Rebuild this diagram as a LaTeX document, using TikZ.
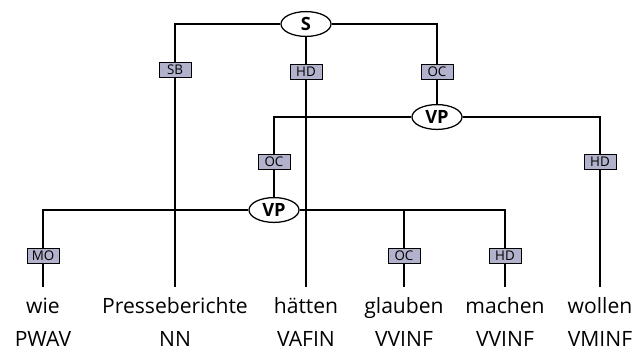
\documentclass[tikz,border=0pt]{standalone}
\usepackage{fontspec}
\setmainfont{Open Sans}
\usetikzlibrary{positioning, shapes.geometric}

\definecolor{edgefill}{RGB}{178,178,204}

\begin{document}
\begin{tikzpicture}[
    x=0.025cm, y=-0.025cm,
    cat/.style={ellipse, draw, line width=0.9pt, fill=white, inner sep=0pt, minimum width=1.25cm, minimum height=0.62cm, font=\fontsize{13}{15}\selectfont\bfseries},
    edgelab/.style={rectangle, draw, line width=0.6pt, fill=edgefill, inner sep=0pt, minimum width=0.8cm, minimum height=0.38cm, font=\fontsize{9.5}{10}\selectfont},
    word/.style={anchor=base, inner xsep=2pt, inner ysep=6.5pt, text height=12pt, font=\fontsize{15}{18}\selectfont},
    tag/.style={anchor=base, inner sep=2pt, font=\fontsize{15}{18}\selectfont},
    link/.style={line width=1.4pt}
]
\useasboundingbox (0,0) rectangle (638,351);

% terminals
\node[word] (wie) at (43,313) {wie};
\node[word] (presse) at (175,313) {Presseberichte};
\node[word] (haetten) at (306,313) {hätten};
\node[word] (glauben) at (404,313) {glauben};
\node[word] (machen) at (505,313) {machen};
\node[word] (wollen) at (600,313) {wollen};

% part-of-speech tags
\node[tag] (wie-t) at (43,346) {PWAV};
\node[tag] (presse-t) at (175,346) {NN};
\node[tag] (haetten-t) at (306,346) {VAFIN};
\node[tag] (glauben-t) at (404,346) {VVINF};
\node[tag] (machen-t) at (505,346) {VVINF};
\node[tag] (wollen-t) at (600,346) {VMINF};

% phrase nodes
\node[cat] (s) at (306,24) {S};
\node[cat] (vp1) at (437,117) {VP};
\node[cat] (vp2) at (274,210) {VP};

% edge labels
\node[edgelab] (sb) at (175,70) {SB};
\node[edgelab] (hd1) at (306,72) {HD};
\node[edgelab] (oc1) at (437,72) {OC};
\node[edgelab] (oc2) at (274,162) {OC};
\node[edgelab] (hd2) at (600,162) {HD};
\node[edgelab] (mo) at (43,256) {MO};
\node[edgelab] (oc3) at (404,256) {OC};
\node[edgelab] (hd3) at (505,256) {HD};

% S
\draw[link] (s) -| (sb);
\draw[link] (sb) -- (presse);
\draw[link] (s) -- (hd1);
\draw[link] (hd1) -- (haetten);
\draw[link] (s) -| (oc1);
\draw[link] (oc1) -- (vp1);

% upper VP
\draw[link] (vp1) -| (oc2);
\draw[link] (oc2) -- (vp2);
\draw[link] (vp1) -| (hd2);
\draw[link] (hd2) -- (wollen);

% lower VP
\draw[link] (vp2) -| (mo);
\draw[link] (mo) -- (wie);
\draw[link] (vp2) -| (oc3);
\draw[link] (oc3) -- (glauben);
\draw[link] (vp2) -| (hd3);
\draw[link] (hd3) -- (machen);

\end{tikzpicture}
\end{document}
